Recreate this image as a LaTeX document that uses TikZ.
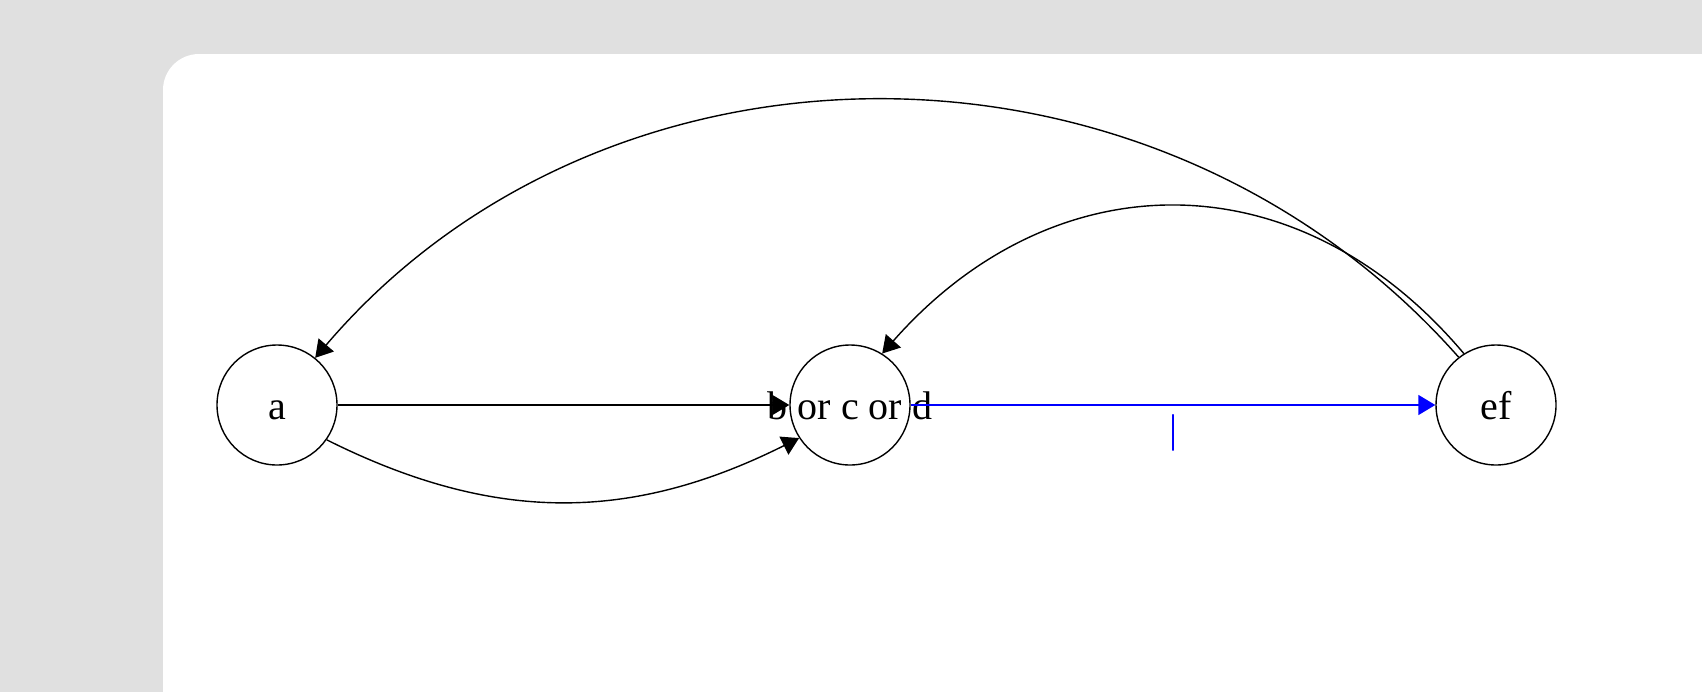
\documentclass[tikz,border=0pt]{standalone}
\usepackage{fontspec}
\setmainfont{Liberation Serif}
\usetikzlibrary{arrows.meta}
\definecolor{VGray}{HTML}{E0E0E0}
\definecolor{VBlue}{HTML}{0000FF}

\begin{document}
\begin{tikzpicture}[x=.5pt, y=-.5pt,
        state/.style={draw, circle, line width=.7pt, minimum size=60pt, inner sep=0pt, text height=14pt, text depth=0pt, font=\fontsize{20}{24}\selectfont},
        edge/.style={-{Triangle[length=8.5pt,width=10pt]}, line width=.7pt}]
        \useasboundingbox (0,0) rectangle (1702,692);
        \clip (0,0) rectangle (1702,692);
        \fill[VGray] (0,0) rectangle (1702,692);
        \fill[white, rounded corners=18pt] (163,54) rectangle (1780,760);
        % states
        \node[state] (a) at (277,405) {a};
        \node[state] (bcd) at (850,405) {\makebox[0pt]{b or c or d}};
        \node[state] (ef) at (1496,405) {ef};
        % transitions
        \draw[edge] (a) -- (bcd);
        \draw[edge] (a.-35) .. controls +(168,84) and +(-168,84) .. (bcd.213);
        \draw[edge, VBlue] (bcd) -- node[below=4.5pt, inner sep=0pt, text=VBlue, font=\fontsize{20}{24}\selectfont] (bar) {|} (ef);
        \draw[edge] (ef.128) .. controls +(-306,-346) and +(290,-340) .. (a.51);
        \draw[edge] (ef.122) .. controls +(-167,-198) and +(171,-194) .. (bcd.58);
\end{tikzpicture}
\end{document}
